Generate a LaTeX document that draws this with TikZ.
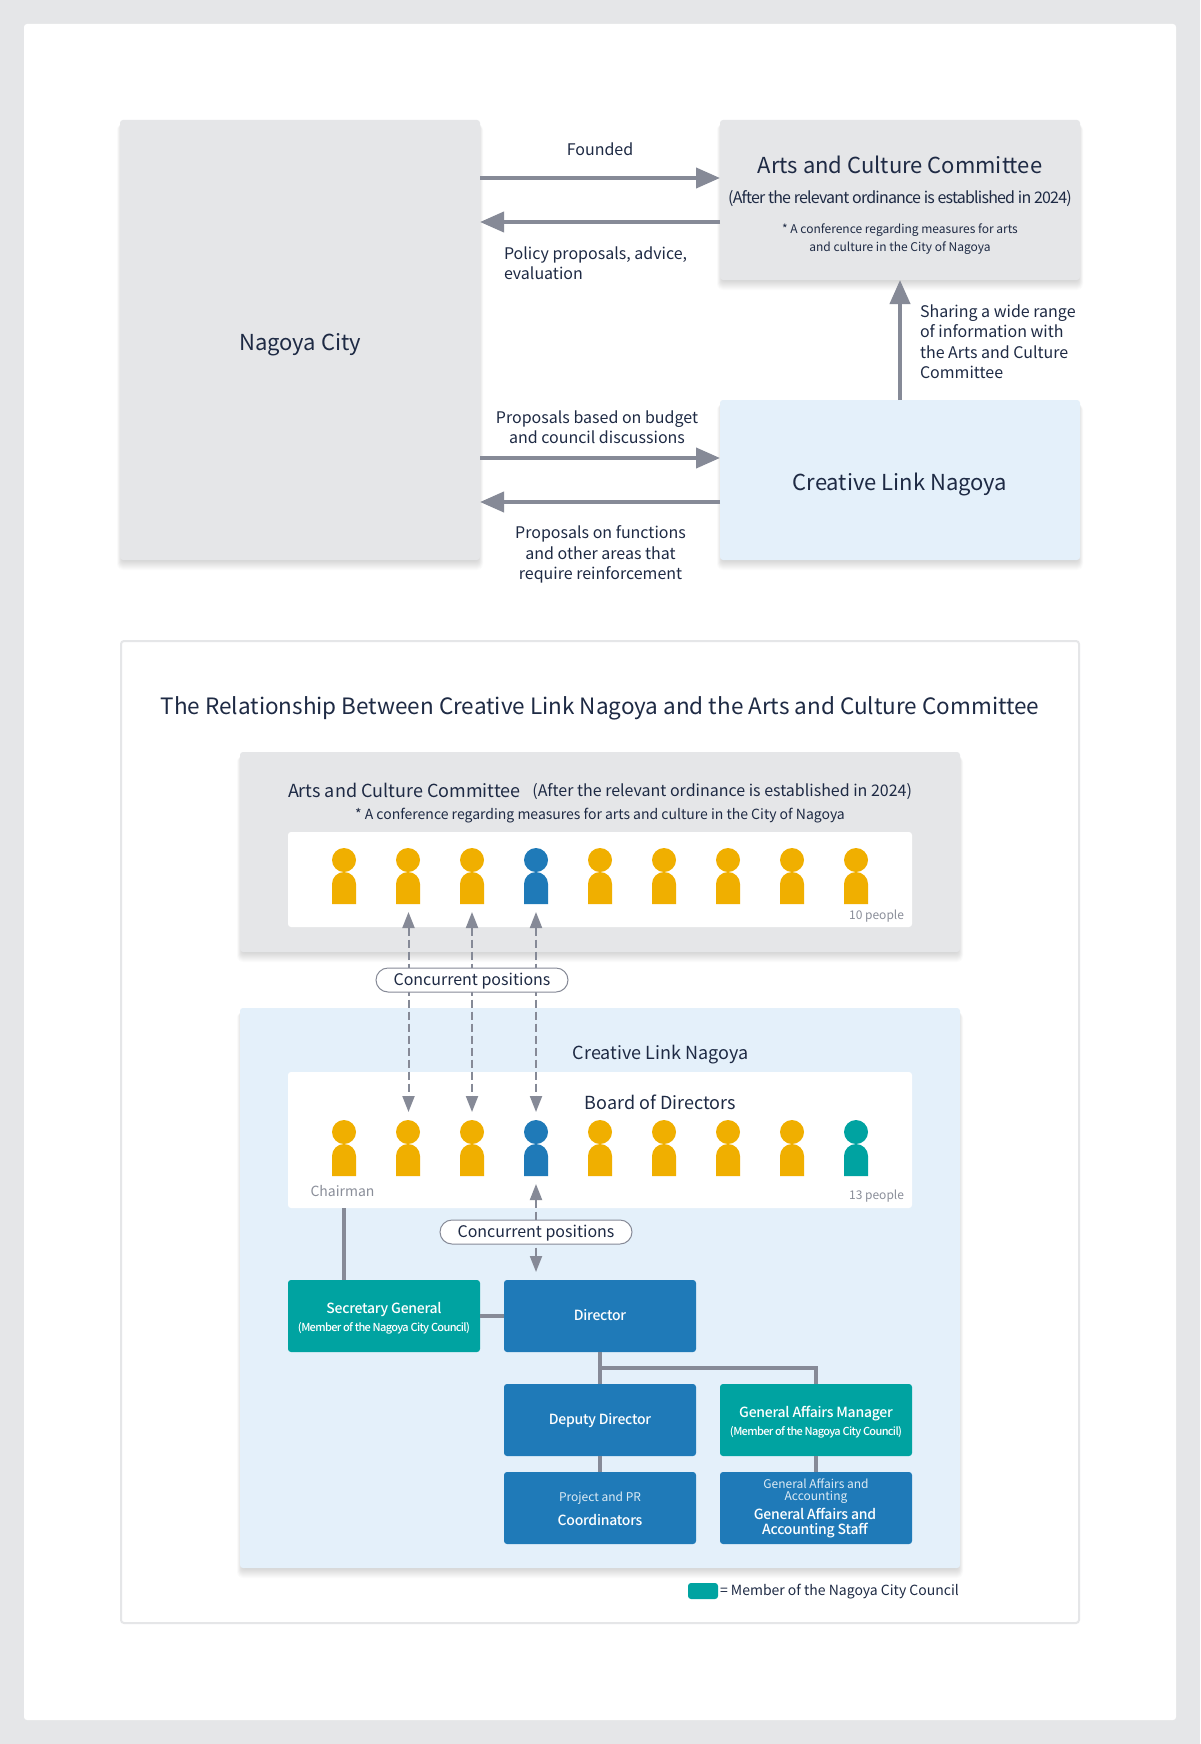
\documentclass[tikz,border=0pt]{standalone}
\usepackage{fontspec}
\setmainfont{Noto Sans CJK JP}
\newfontfamily\medfont{Noto Sans CJK JP Medium}
\newfontfamily\tightfont[LetterSpace=-5]{Noto Sans CJK JP}
\newfontfamily\tightmed[LetterSpace=-6]{Noto Sans CJK JP Medium}
\newfontfamily\slimmed[LetterSpace=-1.8]{Noto Sans CJK JP Medium}
\usetikzlibrary{arrows.meta}
\definecolor{pagegray}{HTML}{E5E6E8}
\definecolor{panelblue}{HTML}{E4F0FA}
\definecolor{inkc}{HTML}{1E2A44}
\definecolor{arrowc}{HTML}{868A97}
\definecolor{softc}{HTML}{8A8E99}
\definecolor{yellowc}{HTML}{F0AF00}
\definecolor{bluec}{HTML}{1F7AB8}
\definecolor{tealc}{HTML}{00A3A1}
\newcommand{\fsz}[2]{\fontsize{#1}{#2}\selectfont}
\newcommand{\person}[3]{%
  \fill[#3] (#1,#2) circle[radius=12pt];
  \fill[#3] (#1-12,#2+24) arc[start angle=180,end angle=0,radius=12pt] -- (#1+12,#2+44) -- (#1-12,#2+44) -- cycle;
}
\newcommand{\softshadow}[4]{%
  \foreach \e in {-4,...,6}{
    \fill[black,opacity=.014,rounded corners={3pt+max(\e,0)*0.5pt}] (#1-\e*0.5,#2+4) rectangle (#3+\e*0.5,#4+4+\e);
  }
}
\tikzset{
  panel/.style={rectangle,rounded corners=3pt,inner sep=0pt,outer sep=0pt,draw=none,minimum width=#1},
  txt/.style={inner sep=0pt,outer sep=0pt,text=inkc,align=center},
  orgbox/.style={rectangle,rounded corners=3pt,inner sep=0pt,outer sep=0pt,minimum width=192pt,minimum height=72pt,text=white,align=center},
  bigarrow/.style={draw=arrowc,line width=4pt,-{Triangle[length=24pt,width=20pt]}},
  dasharrow/.style={draw=arrowc,line width=2pt,dash pattern=on 8pt off 4pt,{Triangle[length=16pt,width=12pt]}-{Triangle[length=16pt,width=12pt]}},
  orgline/.style={draw=arrowc,line width=4pt},
  pill/.style={rectangle,rounded corners=12pt,draw=arrowc,line width=1pt,fill=white,inner sep=0pt,outer sep=0pt,minimum height=24pt,text=inkc,text height=14pt,text depth=3pt},
}
\begin{document}
\begin{tikzpicture}[x=1pt,y=-1pt]
\useasboundingbox (0,0) rectangle (1200,1744);
\fill[pagegray] (0,0) rectangle (1200,1744);
\fill[white,rounded corners=3pt] (24,24) rectangle (1176,1720);

% upper part
\softshadow{120}{120}{480}{560}
\softshadow{720}{120}{1080}{280}
\softshadow{720}{400}{1080}{560}
\node[panel=360pt,minimum height=440pt,fill=pagegray] (city) at (300,340) {};
\node[panel=360pt,minimum height=160pt,fill=pagegray] (arts) at (900,200) {};
\node[panel=360pt,minimum height=160pt,fill=panelblue] (link) at (900,480) {};
\node[txt,font=\fsz{22}{26}] (cityname) at (300,344.5) {Nagoya City};
\node[txt,font=\fsz{22}{26}] (artsname) at (900,165) {Arts and Culture Committee};
\node[txt,font=\tightfont\fsz{16}{20}] (artssub) at (900,199) {(After the relevant ordinance is established in 2024)};
\node[txt,font=\fsz{12}{18}] (artsnote) at (900,239) {* A conference regarding measures for arts\\and culture in the City of Nagoya};
\node[txt,font=\fsz{22}{26}] (linkname) at (900,484) {Creative Link Nagoya};

\draw[bigarrow] (city.east |- 0,178) -- (arts.west |- 0,178);
\draw[bigarrow] (arts.west |- 0,222) -- (city.east |- 0,222);
\draw[bigarrow] (city.east |- 0,458) -- (link.west |- 0,458);
\draw[bigarrow] (link.west |- 0,502) -- (city.east |- 0,502);
\draw[bigarrow] (link.north) -- (arts.south);

\node[txt,font=\fsz{16}{20}] (founded) at (600,149) {Founded};
\node[txt,font=\fsz{16}{20},anchor=west,align=left] (policy) at (504,263) {Policy proposals, advice,\\evaluation};
\node[txt,font=\fsz{16}{20}] (budget) at (597,427) {Proposals based on budget\\and council discussions};
\node[txt,font=\fsz{16}{20.5}] (functions) at (600.5,554.5) {Proposals on functions\\and other areas that\\require reinforcement};
\node[txt,font=\fsz{16}{20.5},anchor=west,align=left] (sharing) at (920,341.5) {Sharing a wide range\\of information with\\the Arts and Culture\\Committee};

% frame
\node[rectangle,rounded corners=3pt,draw=pagegray,line width=2pt,minimum width=958pt,minimum height=982pt,inner sep=0pt] (frame) at (600,1132) {};
\node[txt,font=\fsz{22.5}{26}] (title) at (600,708) {The Relationship Between Creative Link Nagoya and the Arts and Culture Committee};

% panels
\softshadow{240}{752}{960}{952}
\softshadow{240}{1008}{960}{1568}
\node[panel=720pt,minimum height=200pt,fill=pagegray] (panelA) at (600,852) {};
\node[panel=720pt,minimum height=560pt,fill=panelblue] (panelB) at (600,1288) {};
\node[panel=624pt,minimum height=95pt,fill=white] (whiteA) at (600,879.5) {};
\node[panel=624pt,minimum height=136pt,fill=white] (whiteB) at (600,1140) {};

\node[txt,font=\fsz{18}{24},anchor=west] (artsB) at (288,790) {Arts and Culture Committee};
\node[txt,font=\fsz{16}{20},anchor=east] (artsBsub) at (912,792) {(After the relevant ordinance is established in 2024)};
\node[txt,font=\fsz{14}{20}] (artsBnote) at (600,816) {* A conference regarding measures for arts and culture in the City of Nagoya};
\node[txt,font=\fsz{12}{16},text=softc,anchor=east] (tenp) at (904,916) {10 people};
\node[txt,font=\fsz{18}{24}] (linkB) at (660.5,1054.5) {Creative Link Nagoya};
\node[txt,font=\fsz{18}{24}] (board) at (660.5,1102) {Board of Directors};
\node[txt,font=\fsz{14}{20},text=softc] (chair) at (342.5,1191) {Chairman};
\node[txt,font=\fsz{12}{16},text=softc,anchor=east] (thirteen) at (904,1196) {13 people};

% persons
\foreach \px/\pc in {344/yellowc,408/yellowc,472/yellowc,536/bluec,600/yellowc,664/yellowc,728/yellowc,792/yellowc,856/yellowc}{
  \person{\px}{860}{\pc}
}
\foreach \px/\pc in {344/yellowc,408/yellowc,472/yellowc,536/bluec,600/yellowc,664/yellowc,728/yellowc,792/yellowc,856/tealc}{
  \person{\px}{1132}{\pc}
}

% concurrent positions
\coordinate (ua) at (408.5,912); \coordinate (da) at (408.5,1112);
\coordinate (ub) at (472,912); \coordinate (db) at (472,1112);
\coordinate (uc) at (536,912); \coordinate (dc) at (536,1112);
\coordinate (ud) at (536,1184); \coordinate (dd) at (536,1272);
\draw[dasharrow] (ua) -- (da);
\draw[dasharrow] (ub) -- (db);
\draw[dasharrow] (uc) -- (dc);
\draw[dasharrow] (ud) -- (dd);
\node[pill,minimum width=192pt,font=\fsz{16}{20}] (pillA) at (472,980) {Concurrent positions};
\node[pill,minimum width=192pt,font=\fsz{16}{20}] (pillB) at (536,1232) {Concurrent positions};

% org chart
\coordinate (chairfoot) at (344,1208);
\node[orgbox,fill=tealc] (sec) at (384,1316) {};
\node[orgbox,fill=bluec] (dir) at (600,1316) {};
\node[orgbox,fill=bluec] (dep) at (600,1420) {};
\node[orgbox,fill=tealc] (gam) at (816,1420) {};
\node[orgbox,fill=bluec] (coord) at (600,1508) {};
\node[orgbox,fill=bluec] (staff) at (816,1508) {};
\draw[orgline] (chairfoot) -- (chairfoot |- sec.north);
\draw[orgline] (sec.east) -- (dir.west);
\draw[orgline] (dir.south) -- (dep.north);
\draw[orgline] (dep.south) -- (coord.north);
\draw[orgline] (gam.south) -- (staff.north);
\draw[orgline] (dir.south |- 0,1368) -- (gam.north |- 0,1368) -- (gam.north);

\node[txt,text=white,font=\slimmed\fsz{14}{20}] (secA) at (384,1310) {Secretary General};
\node[txt,text=white,font=\tightmed\fsz{11}{14}] (secB) at (384,1328) {(Member of the Nagoya City Council)};
\node[txt,text=white,font=\slimmed\fsz{14}{20}] (dirA) at (600,1315) {Director};
\node[txt,text=white,font=\slimmed\fsz{14}{20}] (depA) at (600,1420.5) {Deputy Director};
\node[txt,text=white,font=\slimmed\fsz{14}{20}] (gamA) at (816,1414) {General Affairs Manager};
\node[txt,text=white,font=\tightmed\fsz{11}{14}] (gamB) at (816,1432) {(Member of the Nagoya City Council)};
\node[txt,text=white,opacity=.85,font=\fsz{12}{18}] (coordA) at (600,1498) {Project and PR};
\node[txt,text=white,font=\slimmed\fsz{14}{20}] (coordB) at (600,1520) {Coordinators};
\node[txt,text=white,opacity=.85,font=\fsz{12}{11.5}] (staffA) at (816,1491) {General Affairs and\\Accounting};
\node[txt,text=white,font=\slimmed\fsz{14}{15}] (staffB) at (815,1523) {General Affairs and\\Accounting Staff};

% legend
\node[rectangle,rounded corners=3pt,fill=tealc,minimum width=30pt,minimum height=16pt,inner sep=0pt] (swatch) at (703,1591) {};
\node[txt,font=\fsz{14}{20},anchor=west] (legend) at (720,1592) {= Member of the Nagoya City Council};
\end{tikzpicture}
\end{document}
